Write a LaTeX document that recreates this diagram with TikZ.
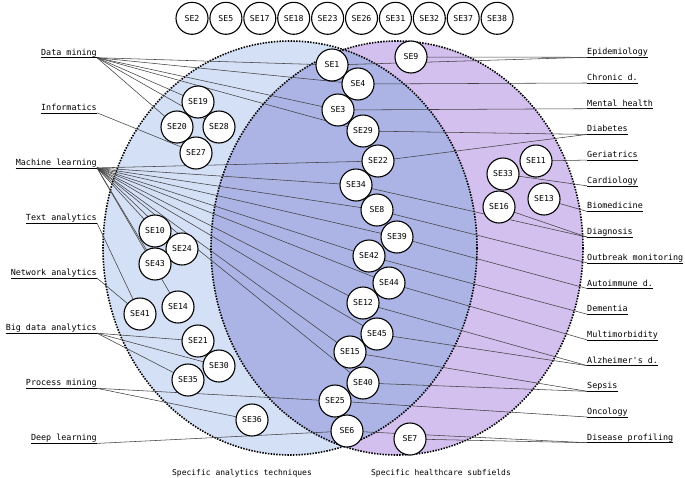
\documentclass[tikz,border=0pt]{standalone}
\usepackage{fontspec}
\setmonofont{DejaVu Sans Mono}
\usepackage{xcolor}

\definecolor{techblue}{HTML}{D4E0F6}
\definecolor{bothblue}{HTML}{ACB4E6}
\definecolor{fieldpurple}{HTML}{D4C0EE}

\pgfdeclarelayer{bg}
\pgfdeclarelayer{links}
\pgfsetlayers{bg,links,main}

\begin{document}
\begin{tikzpicture}[x=1pt,y=-1pt,
    study/.style={circle,draw,line width=1.1pt,fill=white,minimum size=32pt,inner sep=0pt,font=\ttfamily\fontsize{8.2}{10}\selectfont},
    lbl/.style={font=\ttfamily\fontsize{8.4}{10}\selectfont,inner xsep=0pt,inner ysep=2.3pt,text depth=0pt},
    caption/.style={font=\ttfamily\fontsize{8}{10}\selectfont,inner sep=0pt},
    link/.style={draw=black!75,line width=0.55pt},
    border/.style={line width=1.6pt,dash pattern=on 1.5pt off 1.3pt}]

    \useasboundingbox (0,0) rectangle (685,477);

    % Insiemi
    \begin{pgfonlayer}{bg}
        \fill[techblue] (290,248) ellipse [x radius=187, y radius=207];
        \fill[fieldpurple] (397,248) ellipse [x radius=186, y radius=207];
        \begin{scope}
            \clip (290,248) ellipse [x radius=187, y radius=207];
            \fill[bothblue] (397,248) ellipse [x radius=186, y radius=207];
        \end{scope}
        \draw[border] (290,248) ellipse [x radius=187, y radius=207];
        \draw[border] (397,248) ellipse [x radius=186, y radius=207];
    \end{pgfonlayer}

    % Studi senza categoria
    \foreach \n [count=\i from 0] in {2,5,17,18,23,26,31,32,37,38} {
        \node[study] (se\n) at (192+33.9*\i,18.3) {SE\n};
    }

    % Studi nei cerchi
    \foreach \n/\x/\y in {1/332/65, 9/411/57, 4/358/84, 3/338/110, 29/363/131,
        22/378/161, 34/356/185, 8/377/210, 39/397/237, 42/369/256, 44/389/283,
        12/363/303, 45/377/334, 15/350/352, 40/363/383, 25/335/401, 6/347/431,
        7/410/439, 19/198/102, 20/177/127, 28/219/127, 27/196/153, 10/155/231,
        24/182/249, 43/155/264, 14/178/307, 41/140/314, 21/198/341, 30/219/366,
        35/188/380, 36/252/420, 33/503/174, 11/536/161, 16/499/207, 13/544/199} {
        \node[study] (se\n) at (\x,\y) {SE\n};
    }

    % Tecniche
    \foreach \nm/\y/\t in {dm/57.7/Data mining, inf/112.8/Informatics,
        ml/167.9/Machine learning, ta/223/Text analytics,
        na/278.1/Network analytics, bda/333.2/Big data analytics,
        pm/388.3/Process mining, dl/443.4/Deep learning} {
        \node[lbl,anchor=south east] (\nm) at (97,\y) {\t};
        \draw[line width=0.5pt] (\nm.south west) -- (\nm.south east);
    }

    % Ambiti
    \foreach \nm/\y/\t in {epi/57.3/Epidemiology, chr/83/Chronic d.,
        men/108.7/Mental health, dia/134.4/Diabetes, ger/160.1/Geriatrics,
        car/185.8/Cardiology, bio/211.4/Biomedicine, dgn/237.1/Diagnosis,
        out/262.8/Outbreak monitoring, aut/288.5/Autoimmune d.,
        dem/314.2/Dementia, mul/339.9/Multimorbidity, alz/365.6/Alzheimer's d.,
        sep/391.3/Sepsis, onc/417/Oncology, dp/442.7/Disease profiling} {
        \node[lbl,anchor=south west] (\nm) at (587,\y) {\t};
        \draw[line width=0.5pt] (\nm.south west) -- (\nm.south east);
    }

    % Collegamenti
    \begin{pgfonlayer}{links}
        \foreach \a/\b in {dm/se1, dm/se4, dm/se3, dm/se29, dm/se19, dm/se28,
            dm/se20, inf/se27, ml/se22, ml/se34, ml/se8, ml/se39, ml/se42,
            ml/se44, ml/se12, ml/se45, ml/se15, ml/se40, ml/se10, ml/se24,
            ml/se43, ml/se14, ta/se41, na/se41, bda/se21, bda/se30, bda/se35,
            pm/se25, pm/se36, dl/se6} {
            \draw[link] (\a.south east) -- (\b.center);
        }
        \foreach \a/\b in {epi/se1, epi/se9, chr/se4, men/se3, dia/se29,
            dia/se22, ger/se11, car/se33, bio/se13, dgn/se34, dgn/se16,
            out/se8, aut/se39, dem/se42, mul/se44, alz/se12, alz/se45,
            sep/se15, sep/se40, onc/se25, dp/se6, dp/se7} {
            \draw[link] (\a.south west) -- (\b.center);
        }
    \end{pgfonlayer}

    % Didascalie
    \node[caption] (capl) at (242,473) {Specific analytics techniques};
    \node[caption] (capr) at (441,473) {Specific healthcare subfields};

\end{tikzpicture}
\end{document}
